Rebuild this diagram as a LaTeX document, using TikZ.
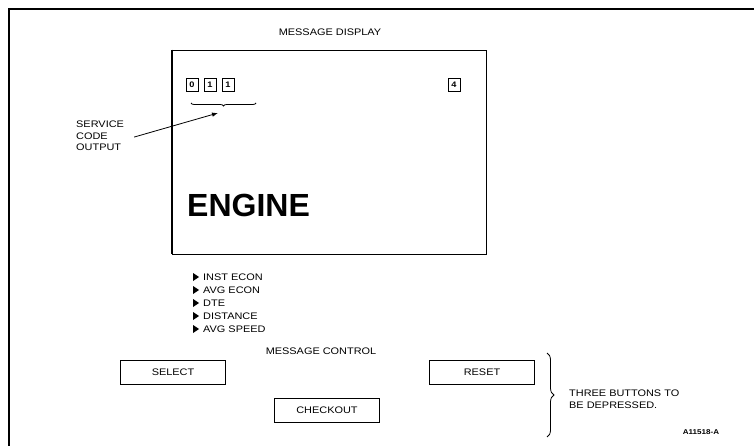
\documentclass[tikz,border=0pt]{standalone}
\usepackage{fontspec}
\setmainfont{Liberation Sans}[FakeStretch=1.15]
\newfontfamily\bigfont{Liberation Sans}
\usepackage{tikz}
\usetikzlibrary{positioning, arrows.meta, decorations.pathreplacing}

\tikzset{
  lbl/.style={font=\fontsize{9.5}{11.5}\selectfont, inner sep=0pt},
  digit/.style={draw, thick, minimum width=12pt, minimum height=13pt, inner sep=0pt, font=\fontsize{8}{9}\selectfont\bfseries},
  button/.style={draw, thick, minimum width=105pt, minimum height=24pt, inner sep=0pt, font=\fontsize{9.5}{11}\selectfont},
  item/.style={lbl, anchor=west}
}

\begin{document}
\begin{tikzpicture}[x=1pt, y=-1pt]
			\useasboundingbox (0,0) rectangle (754,446);
			\draw[line width=2.5pt] (9,446) -- (9,9) -- (754,9);
			
			% message display
			\node[lbl] (mdtitle) at (330,32) {MESSAGE DISPLAY};
			\node[draw, thick, minimum width=314pt, minimum height=204pt, inner sep=0pt] (disp) at (329,152) {};
			\draw[line width=2pt] (disp.north west) -- (disp.south west);
			
			\node[digit] (d1) at (192,85) {0};
			\node[digit] (d2) at (210,85) {1};
			\node[digit] (d3) at (228,85) {1};
			\node[digit] (gear) at (454,85) {4};
			\draw[thick, decorate, decoration={brace, mirror, amplitude=3pt}] (191,103) -- (256,103);
			
			\node[lbl, anchor=north west, align=left] (svc) at (76,121) {SERVICE\\CODE\\OUTPUT};
			\coordinate (svctip) at (218,113);
			\draw[thick, -{Latex[length=6pt]}] (svc.east) ++(10,1) -- (svctip);
			
			\node[anchor=west, inner sep=0pt, font=\bigfont\fontsize{32}{36}\selectfont\bfseries] (engine) at (187,205) {ENGINE};
			
			% menu items
			\foreach \txt [count=\i] in {INST ECON, AVG ECON, DTE, DISTANCE, AVG SPEED} {
				\node[item] (opt\i) at (203,{277+13*(\i-1)}) {\txt};
				\fill (opt\i.west) ++(-10,-4) -- ++(0,8) -- ++(6,-4) -- cycle;
			}
			
			% message control
			\node[lbl] (mctitle) at (321,351) {MESSAGE CONTROL};
			\node[button] (select) at (173,372) {SELECT};
			\node[button] (reset) at (482,372) {RESET};
			\node[button] (checkout) at (327,410) {CHECKOUT};
			
			\draw[thick, decorate, decoration={brace, amplitude=7pt}] (547,353) -- (547,437);
			\node[lbl, anchor=west, align=left] (note) at (569,399) {THREE BUTTONS TO\\BE DEPRESSED.};
			\node[lbl, font=\fontsize{7}{8}\selectfont\bfseries] (figno) at (701,432) {A11518-A};
\end{tikzpicture}
\end{document}
